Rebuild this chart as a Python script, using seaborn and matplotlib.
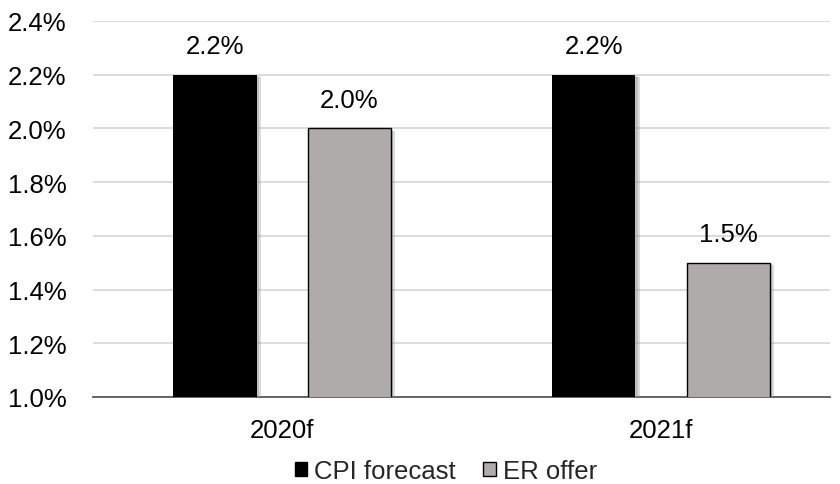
import matplotlib
matplotlib.use("Agg")
import matplotlib.pyplot as plt
import matplotlib.patheffects as pe
from matplotlib.patches import Patch
import seaborn as sns
import pandas as pd

years = ["2020f", "2021f"]
series = ["CPI forecast", "ER offer"]
cpi_forecast = [2.2, 2.2]
er_offer = [2.0, 1.5]
y_ticks = [1.0, 1.2, 1.4, 1.6, 1.8, 2.0, 2.2, 2.4]

colors = {"CPI forecast": "#000000", "ER offer": "#AFABAB"}

df = pd.DataFrame({
    "year": years * 2,
    "series": [series[0]] * len(years) + [series[1]] * len(years),
    "value": cpi_forecast + er_offer,
})

sns.set_theme(style="white")
plt.rcParams["font.family"] = ["Liberation Sans", "DejaVu Sans"]

W, H = 840, 485
fig = plt.figure(figsize=(W / 100, H / 100), dpi=100)
ax = fig.add_axes([93 / W, (H - 398) / H, (830 - 93) / W, (398 - 22) / H])

sns.barplot(data=df, x="year", y="value", hue="series", hue_order=series,
            palette=colors, width=0.71, gap=0.38, ax=ax, legend=False,
            saturation=1, zorder=3)

# soft drop shadow to the lower right of each bar
shadow = [pe.SimplePatchShadow(offset=(3, -2), shadow_rgbFace="#9a9a9a", alpha=0.35),
          pe.SimplePatchShadow(offset=(1.5, -1), shadow_rgbFace="#8a8a8a", alpha=0.35),
          pe.Normal()]
for name, cont in zip(series, ax.containers):
    for bar in cont:
        bar.set_edgecolor("#000000" if name == "ER offer" else "none")
        bar.set_linewidth(1.0)
        bar.set_path_effects(shadow)
    ax.bar_label(cont, labels=[f"{v:.1f}%" for v in cont.datavalues],
                 padding=12, fontsize=18.5, color="#000000")

ax.set_ylim(1.0, 2.4)
ax.set_xlim(-0.499, 1.446)
ax.set_yticks(y_ticks)
ax.set_yticklabels([f"{t:.1f}%" for t in y_ticks])
ax.yaxis.grid(True, color="#D9D9D9", linewidth=1.3, zorder=0)
ax.set_axisbelow(True)
ax.tick_params(axis="both", length=0, labelsize=18.5, colors="#000000")
ax.tick_params(axis="y", pad=19)
ax.tick_params(axis="x", pad=15)
ax.set_xlabel("")
ax.set_ylabel("")
for s in ["top", "right", "left"]:
    ax.spines[s].set_visible(False)
ax.spines["bottom"].set_color("#595959")
ax.spines["bottom"].set_linewidth(1.3)

handles = [Patch(facecolor=colors["CPI forecast"], edgecolor="#000000", label="CPI forecast"),
           Patch(facecolor=colors["ER offer"], edgecolor="#000000", label="ER offer")]
fig.legend(handles=handles, loc="center", bbox_to_anchor=(446 / W, 1 - 472 / H),
           ncol=2, frameon=False, fontsize=18.5, handlelength=0.5, handleheight=0.5,
           handletextpad=0.27, columnspacing=1.07, borderpad=0, borderaxespad=0)

fig.savefig("out.png", dpi=100)
